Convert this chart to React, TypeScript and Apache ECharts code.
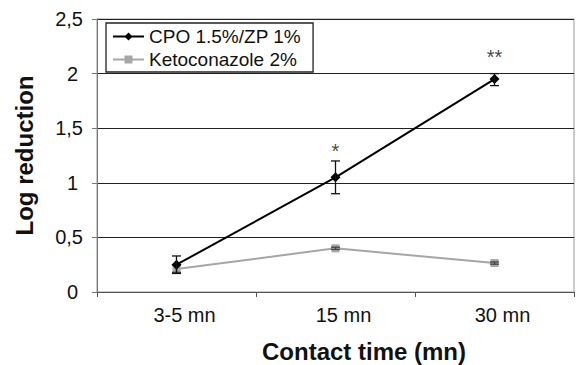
import React, { useEffect, useRef } from "react";
import * as echarts from "echarts";

const categories = ["3-5 mn", "15 mn", "30 mn"];
const cpoName = "CPO 1.5%/ZP 1%";
const ketoName = "Ketoconazole 2%";
const cpoValues = [0.25, 1.05, 1.95];
const cpoLow = [0.17, 0.9, 1.89];
const cpoHigh = [0.33, 1.2, 2.0];
const ketoValues = [0.21, 0.4, 0.265];
const ketoLow = [0.18, 0.39, 0.255];
const ketoHigh = [0.25, 0.41, 0.275];
const sigLabels = ["", "*", "**"];
const sigY = [0, 1.29, 2.15];
const yTicks = [0, 0.5, 1, 1.5, 2, 2.5];
const xTitle = "Contact time (mn)";
const yTitle = "Log reduction";

const FONT = "'Liberation Sans', Arial, sans-serif";

export default function App() {
  const ref = useRef<HTMLDivElement>(null);
  useEffect(() => {
    if (!ref.current) return;
    const chart = echarts.init(ref.current, undefined, { renderer: "svg" });
    const errData = (lo: number[], hi: number[]) => lo.map((l, i) => [i, l, hi[i]]);
    const errRender = (color: string) => (params: any, api: any) => {
      const x = api.value(0);
      const lo = api.coord([x, api.value(1)]);
      const hi = api.coord([x, api.value(2)]);
      const w = 4.5;
      const style = { stroke: color, lineWidth: 1.3 };
      return {
        type: "group",
        children: [
          { type: "line", shape: { x1: lo[0], y1: lo[1], x2: hi[0], y2: hi[1] }, style },
          { type: "line", shape: { x1: lo[0] - w, y1: lo[1], x2: lo[0] + w, y2: lo[1] }, style },
          { type: "line", shape: { x1: hi[0] - w, y1: hi[1], x2: hi[0] + w, y2: hi[1] }, style },
        ],
      };
    };
    chart.setOption({
      animation: false,
      textStyle: { fontFamily: FONT },
      title: {
        text: xTitle,
        left: 262,
        top: 339,
        padding: 0,
        textStyle: { fontSize: 24, fontWeight: "bold", color: "#111", fontFamily: FONT },
      },
      grid: {
        left: 97,
        top: 19,
        right: 3,
        bottom: 73,
        show: true,
        borderColor: "#999",
        borderWidth: 1,
      },
      legend: {
        orient: "vertical",
        left: 106,
        top: 23,
        padding: [4, 12, 3, 6],
        itemGap: 4,
        itemWidth: 31,
        itemHeight: 10,
        borderColor: "#222",
        borderWidth: 1.3,
        backgroundColor: "#fff",
        textStyle: { fontSize: 19, color: "#111", fontFamily: FONT },
        data: [cpoName, ketoName],
      },
      xAxis: {
        type: "category",
        data: categories,
        boundaryGap: true,
        axisLine: { lineStyle: { color: "#555", width: 1 } },
        axisTick: { show: true, length: 5, lineStyle: { color: "#555" } },
        axisLabel: {
          fontSize: 20,
          color: "#111",
          margin: 13,
          padding: [0, 0, 0, 16],
          fontFamily: FONT,
        },
      },
      yAxis: {
        type: "value",
        min: 0,
        max: 2.5,
        interval: 0.5,
        name: yTitle,
        nameLocation: "middle",
        nameGap: 61,
        nameTextStyle: { fontSize: 24, fontWeight: "bold", color: "#111", fontFamily: FONT },
        axisLine: { show: true, lineStyle: { color: "#777", width: 1 } },
        axisTick: { show: true, length: 5, lineStyle: { color: "#777" } },
        axisLabel: {
          fontSize: 20,
          color: "#111",
          margin: 14,
          fontFamily: FONT,
          formatter: (v: number) => {
            if (!yTicks.includes(v)) return "";
            const s = String(v).replace(".", ",");
            return Number.isInteger(v) ? "{i|" + s + "}" : s;
          },
          rich: {
            i: { fontSize: 20, color: "#111", fontFamily: FONT, padding: [0, 5, 0, 0] },
          },
        },
        splitLine: { show: true, lineStyle: { color: "#222", width: 1 } },
      },
      series: [
        {
          name: ketoName,
          type: "line",
          data: ketoValues,
          color: "#a6a6a6",
          symbol: "rect",
          symbolSize: 8,
          lineStyle: { color: "#a6a6a6", width: 2 },
          itemStyle: { color: "#a6a6a6" },
          z: 3,
        },
        {
          name: ketoName + " err",
          type: "custom",
          data: errData(ketoLow, ketoHigh),
          encode: { x: 0, y: [1, 2] },
          renderItem: errRender("#444"),
          z: 4,
        },
        {
          name: cpoName,
          type: "line",
          data: cpoValues,
          color: "#000",
          symbol: "diamond",
          symbolSize: 10,
          lineStyle: { color: "#000", width: 2 },
          itemStyle: { color: "#000" },
          z: 5,
        },
        {
          name: cpoName + " err",
          type: "custom",
          data: errData(cpoLow, cpoHigh),
          encode: { x: 0, y: [1, 2] },
          renderItem: errRender("#111"),
          z: 6,
        },
        {
          name: "sig",
          type: "scatter",
          data: sigY.map((y, i) => [i, y]),
          symbolSize: 0,
          silent: true,
          label: {
            show: true,
            position: "inside",
            fontSize: 20,
            color: "#111",
            formatter: (p: any) => sigLabels[p.dataIndex],
          },
          z: 7,
        },
      ],
    });
    return () => chart.dispose();
  }, []);
  return (
    <div
      ref={ref}
      style={{ position: "fixed", left: 0, top: 0, width: 577, height: 365, background: "#fff" }}
    />
  );
}
